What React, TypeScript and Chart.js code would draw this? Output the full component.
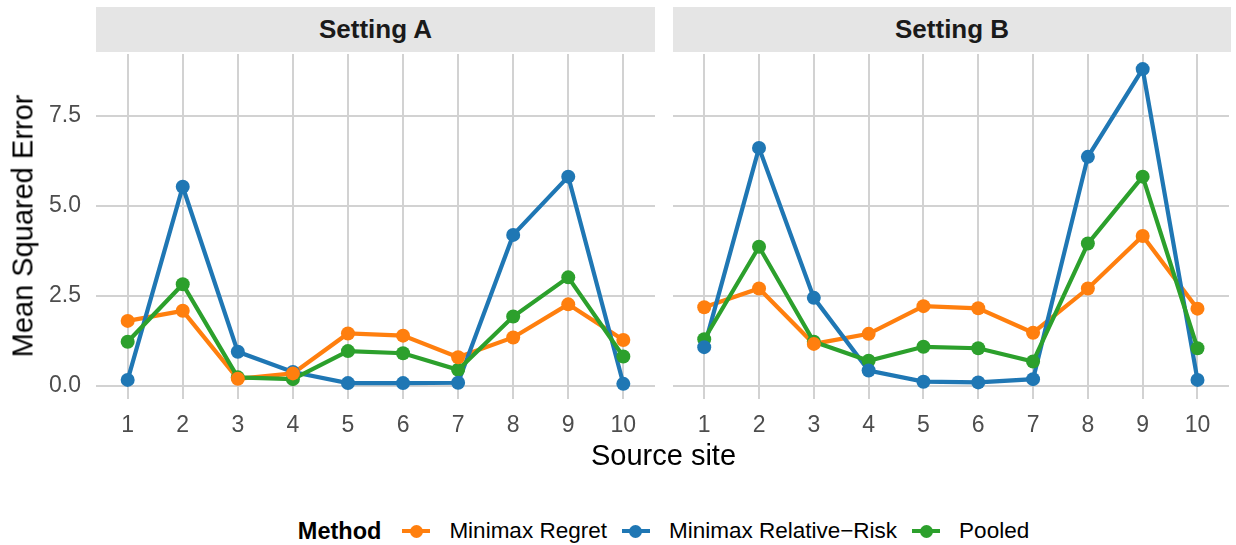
import React, { useEffect, useRef } from "react";
import { Chart, registerables } from "chart.js";

Chart.register(...registerables);

// ---------------- data ----------------
const sites = [1, 2, 3, 4, 5, 6, 7, 8, 9, 10];
const xTickLabels = ["1", "2", "3", "4", "5", "6", "7", "8", "9", "10"];
const yTickValues = [0, 2.5, 5, 7.5];
const yTickLabels = ["0.0", "2.5", "5.0", "7.5"];
const settings = ["Setting A", "Setting B"];
const methods = ["Minimax Regret", "Minimax Relative\u2212Risk", "Pooled"];
const methodColors = ["#ff7f0e", "#1f77b4", "#2ca02c"];

const regretA = [1.8, 2.08, 0.19, 0.34, 1.45, 1.39, 0.79, 1.34, 2.26, 1.27];
const relRiskA = [0.16, 5.53, 0.94, 0.38, 0.07, 0.07, 0.08, 4.19, 5.81, 0.05];
const pooledA = [1.22, 2.82, 0.23, 0.18, 0.96, 0.9, 0.44, 1.92, 3.01, 0.81];

const regretB = [2.18, 2.7, 1.16, 1.44, 2.21, 2.15, 1.47, 2.7, 4.16, 2.14];
const relRiskB = [1.07, 6.61, 2.44, 0.42, 0.11, 0.09, 0.18, 6.36, 8.8, 0.16];
const pooledB = [1.29, 3.86, 1.22, 0.69, 1.08, 1.04, 0.67, 3.95, 5.81, 1.04];

const FONT = "'Liberation Sans', Arial, Helvetica, sans-serif";
const GRID = "#d2d2d2";

type PanelProps = {
  left: number;
  width: number;
  yWidth: number;
  padRight: number;
  showY: boolean;
  series: number[][];
};

function Panel({ left, width, yWidth, padRight, showY, series }: PanelProps) {
  const ref = useRef<HTMLCanvasElement | null>(null);
  useEffect(() => {
    if (!ref.current) return;
    const pts = (vals: number[]) => sites.map((s, i) => ({ x: s, y: vals[i] }));
    // point order (top first): regret, rel-risk, pooled; lines beneath
    const pointOrder = [1, 2, 3];
    const lineOrder = [6, 5, 4];
    const datasets: any[] = [];
    series.forEach((vals, k) => {
      datasets.push({
        label: methods[k] + " line",
        data: pts(vals),
        borderColor: methodColors[k],
        borderWidth: 4.2,
        pointRadius: 0,
        showLine: true,
        fill: false,
        tension: 0,
        order: lineOrder[k],
        clip: false,
      });
      datasets.push({
        label: methods[k],
        data: pts(vals),
        backgroundColor: methodColors[k],
        borderWidth: 0,
        pointRadius: 7,
        pointBorderWidth: 0,
        showLine: false,
        order: pointOrder[k],
        clip: false,
      });
    });
    const chart = new Chart(ref.current, {
      type: "scatter",
      data: { datasets },
      options: {
        animation: false,
        responsive: false,
        devicePixelRatio: 1,
        events: [],
        layout: { padding: { top: 54, left: 0, right: padRight, bottom: 0 } },
        plugins: { legend: { display: false }, tooltip: { enabled: false } },
        scales: {
          x: {
            type: "linear",
            min: 0.425,
            max: 10.575,
            afterBuildTicks: (s: any) => {
              s.ticks = sites.map((v) => ({ value: v }));
            },
            afterFit: (s: any) => {
              s.height = 60.7;
            },
            grid: { color: GRID, lineWidth: 2, drawTicks: false },
            border: { display: false },
            ticks: {
              autoSkip: false,
              maxRotation: 0,
              padding: 13,
              color: "#4d4d4d",
              font: { family: FONT, size: 23 },
              callback: (_v: any, i: number) => xTickLabels[i],
            },
          },
          y: {
            type: "linear",
            min: -0.38,
            max: 9.22,
            afterBuildTicks: (s: any) => {
              s.ticks = yTickValues.map((v) => ({ value: v }));
            },
            afterFit: (s: any) => {
              s.width = yWidth;
            },
            grid: { color: GRID, lineWidth: 2, drawTicks: false },
            border: { display: false },
            ticks: {
              display: showY,
              padding: 15,
              color: "#4d4d4d",
              font: { family: FONT, size: 23 },
              callback: (_v: any, i: number) => yTickLabels[i],
            },
          },
        },
      } as any,
    });
    return () => chart.destroy();
  }, []);
  return (
    <canvas
      ref={ref}
      width={width}
      height={460}
      style={{ position: "absolute", left, top: 0, width, height: 460 }}
    />
  );
}

function Strip({ left, width, text }: { left: number; width: number; text: string }) {
  return (
    <div
      style={{
        position: "absolute",
        left,
        top: 7,
        width,
        height: 45,
        background: "#e5e5e5",
        display: "flex",
        alignItems: "center",
        justifyContent: "center",
        fontFamily: FONT,
        fontWeight: "bold",
        fontSize: 26,
        color: "#1a1a1a",
      }}
    >
      {text}
    </div>
  );
}

function LegendKey({ color }: { color: string }) {
  return (
    <div style={{ position: "relative", width: 28, height: 14, flex: "0 0 auto" }}>
      <div
        style={{
          position: "absolute",
          left: 0,
          top: 5,
          width: 28,
          height: 4,
          background: color,
        }}
      />
      <div
        style={{
          position: "absolute",
          left: 7.5,
          top: 0.5,
          width: 13,
          height: 13,
          borderRadius: "50%",
          background: color,
        }}
      />
    </div>
  );
}

export default function App() {
  useEffect(() => {
    document.body.style.margin = "0";
  }, []);
  return (
    <div
      style={{
        position: "relative",
        width: 1236,
        height: 545,
        background: "#ffffff",
        overflow: "hidden",
        fontFamily: FONT,
      }}
    >
      <Strip left={96} width={559} text={settings[0]} />
      <Strip left={672.7} width={558.8} text={settings[1]} />
      <Panel
        left={0}
        width={665}
        yWidth={96}
        padRight={10}
        showY={true}
        series={[regretA, relRiskA, pooledA]}
      />
      <Panel
        left={660}
        width={576}
        yWidth={12.7}
        padRight={4.5}
        showY={false}
        series={[regretB, relRiskB, pooledB]}
      />
      <div
        style={{
          position: "absolute",
          left: 23,
          top: 226,
          transform: "translate(-50%, -50%) rotate(-90deg)",
          whiteSpace: "nowrap",
          fontSize: 29,
          color: "#000",
          lineHeight: 1,
        }}
      >
        Mean Squared Error
      </div>
      <div
        style={{
          position: "absolute",
          left: 663.5,
          top: 455,
          transform: "translate(-50%, -50%)",
          whiteSpace: "nowrap",
          fontSize: 29,
          color: "#000",
          lineHeight: 1,
        }}
      >
        Source site
      </div>
      <div
        style={{
          position: "absolute",
          left: 96,
          width: 1135,
          top: 516,
          height: 30,
          display: "flex",
          alignItems: "center",
          justifyContent: "center",
          whiteSpace: "nowrap",
          fontSize: 22.5,
          color: "#000",
        }}
      >
        <span style={{ fontWeight: "bold", fontSize: 23.5, marginRight: 21 }}>Method</span>
        {methods.map((m, i) => (
          <React.Fragment key={m}>
            <LegendKey color={methodColors[i]} />
            <span style={{ marginLeft: 19, marginRight: i < methods.length - 1 ? 15 : 0 }}>{m}</span>
          </React.Fragment>
        ))}
      </div>
    </div>
  );
}
